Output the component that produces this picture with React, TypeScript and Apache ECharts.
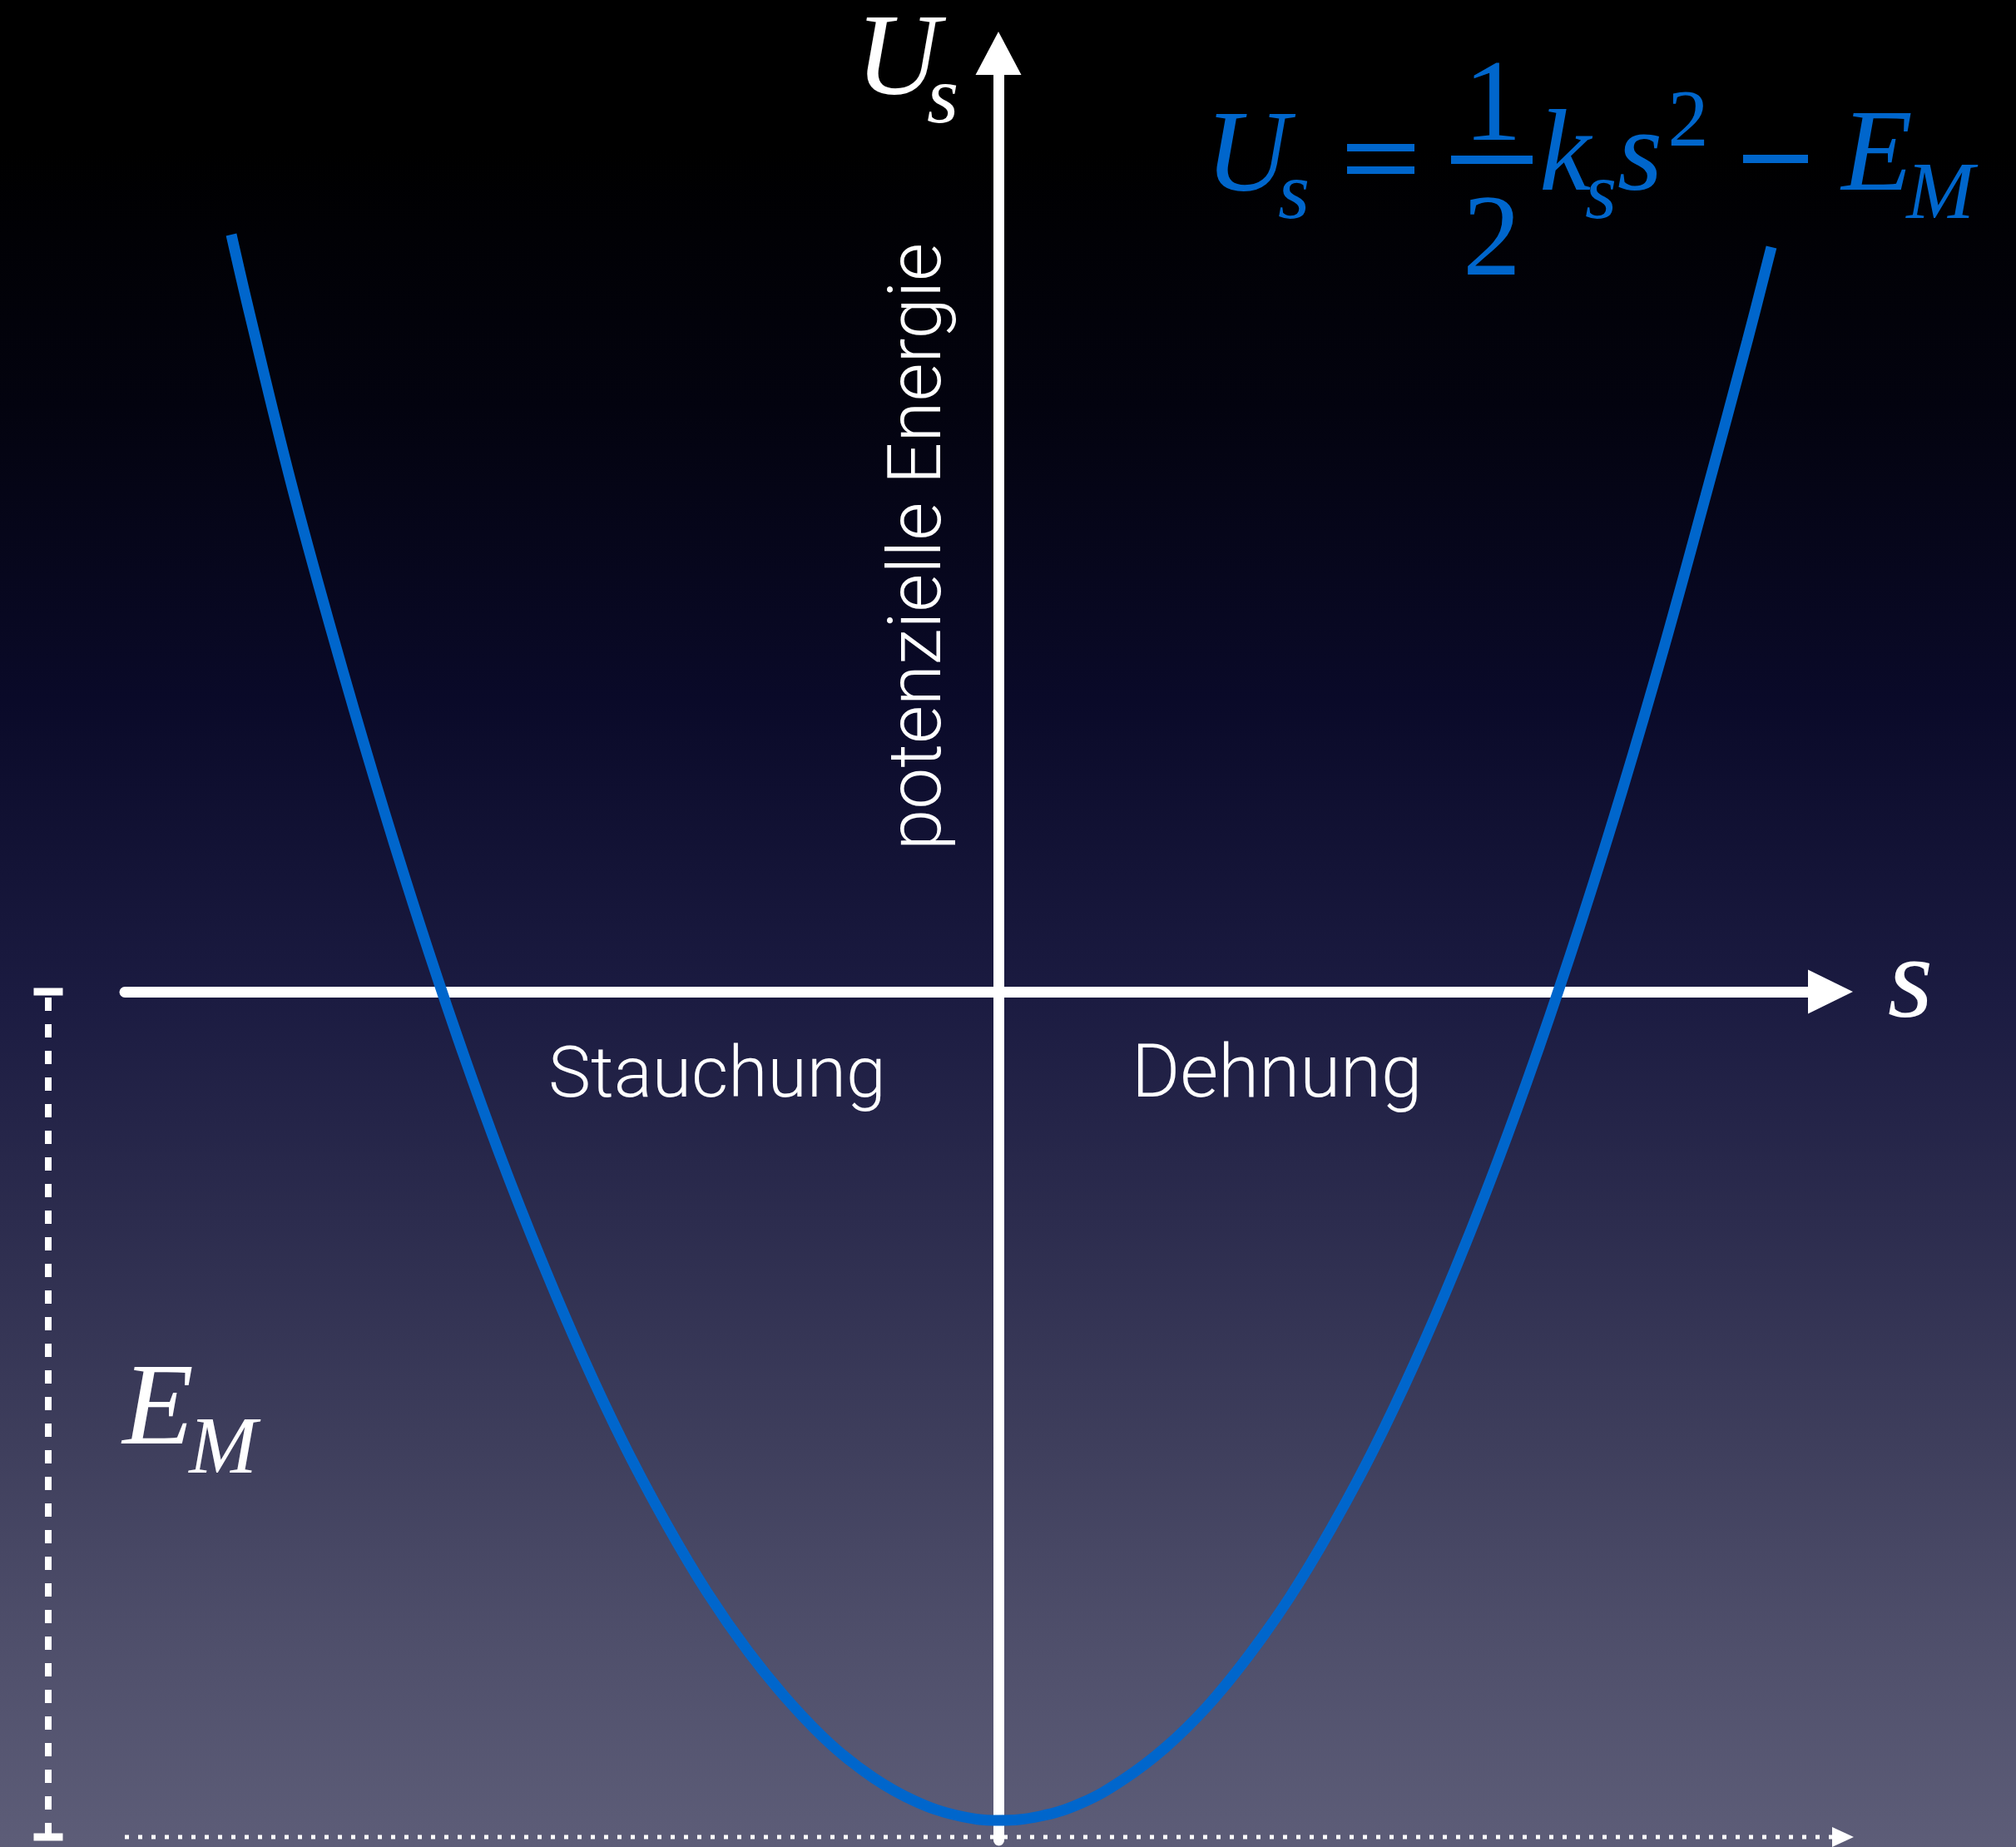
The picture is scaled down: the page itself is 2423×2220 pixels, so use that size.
import React, { useEffect, useRef } from "react";
import * as echarts from "echarts";

const W = 2423;
const H = 2220;

// axis ranges in data units (deflection s, energy U)
const sRange = [-10.5, 10];
const uRange = [-10.2, 11.28];

// potential curve, points
const curveS = [
  -9.22, -9, -8.5, -8, -7.5, -7, -6.5, -6, -5.5, -5, -4.5, -4, -3.5, -3, -2.5, -2, -1.5, -1, -0.5, 0,
  0.5, 1, 1.5, 2, 2.5, 3, 3.5, 4, 4.5, 5, 5.5, 6, 6.5, 7, 7.5, 8, 8.5, 9, 9.29,
];
const curveU = [
  9.1, 8.15, 6.11, 4.28, 2.56, 0.95, -0.55, -1.94, -3.21, -4.38, -5.44, -6.38, -7.22, -7.94, -8.55, -9.06, -9.45, -9.73, -9.9, -9.96,
  -9.91, -9.75, -9.47, -9.09, -8.6, -7.99, -7.28, -6.45, -5.52, -4.47, -3.31, -2.04, -0.66, 0.83, 2.43, 4.14, 5.96, 7.82, 8.95,
];

// E_M level and its markers
const EM = 10.16;
const dottedS = [-10.5, 10.15];
const markerS = -11.42;

// texts
const axisTitleY = "potenzielle Energie";
const leftRegion = "Stauchung";
const rightRegion = "Dehnung";

const BLUE = "#0066CC";
const WHITE = "#FFFFFF";
const SERIF = "'Liberation Serif', 'Times New Roman', serif";
const SANS = "Roboto, 'Liberation Sans', sans-serif";
const K_SERIF = 0.3375;
const K_SANS = 0.3335;

function glyph(text: string, cx: number, baseline: number, size: number, italic: boolean, color: string) {
  return {
    type: "text",
    silent: true,
    z: 100,
    x: cx,
    y: baseline - K_SERIF * size,
    style: {
      text,
      fill: color,
      fontFamily: SERIF,
      fontSize: size,
      lineHeight: Math.round(size * 0.75),
      fontStyle: italic ? "italic" : "normal",
      fontWeight: "normal",
      align: "center",
      verticalAlign: "middle",
    },
  };
}

function bar(x: number, y: number, w: number, h: number, color: string) {
  return { type: "rect", silent: true, z: 100, shape: { x, y, width: w, height: h }, style: { fill: color } };
}

function sansText(text: string, left: number, baseline: number, size: number) {
  return {
    type: "text",
    silent: true,
    z: 100,
    x: left,
    y: baseline - K_SANS * size,
    style: {
      text,
      fill: WHITE,
      fontFamily: SANS,
      fontSize: size,
      fontWeight: 300,
      align: "left",
      verticalAlign: "middle",
    },
  };
}

function buildOption() {
  const curve = curveS.map((s, i) => [s, curveU[i]]);
  return {
    animation: false,
    grid: { left: 150, right: 223, top: 64, bottom: 8, containLabel: false },
    xAxis: {
      type: "value",
      min: sRange[0],
      max: sRange[1],
      axisLine: {
        show: true,
        onZero: true,
        symbol: ["none", "triangle"],
        symbolSize: [53, 54],
        lineStyle: { color: WHITE, width: 13 },
      },
      axisTick: { show: false },
      axisLabel: { show: false },
      splitLine: { show: false },
    },
    yAxis: {
      type: "value",
      min: uRange[0],
      max: uRange[1],
      axisLine: {
        show: true,
        onZero: true,
        symbol: ["none", "triangle"],
        symbolSize: [55, 52],
        lineStyle: { color: WHITE, width: 13 },
      },
      axisTick: { show: false },
      axisLabel: { show: false },
      splitLine: { show: false },
    },
    series: [
      {
        type: "line",
        data: [
          { value: [dottedS[0], -EM], symbol: "none" },
          { value: [dottedS[1], -EM], symbol: "triangle", symbolSize: [24, 26], symbolRotate: -90 },
        ],
        showSymbol: true,
        clip: false,
        silent: true,
        z: 3,
        itemStyle: { color: WHITE, borderWidth: 0 },
        lineStyle: { color: WHITE, width: 5, type: [5, 11], cap: "butt" },
      },
      {
        type: "custom",
        data: [[markerS, 0, -EM]],
        clip: false,
        silent: true,
        z: 3,
        renderItem: (_params: any, api: any) => {
          const s = api.value(0);
          const p0 = api.coord([s, api.value(1)]);
          const p1 = api.coord([s, api.value(2)]);
          return {
            type: "group",
            children: [
              {
                type: "line",
                shape: { x1: p0[0], y1: p0[1], x2: p1[0], y2: p1[1] },
                style: { stroke: WHITE, lineWidth: 8, lineDash: [16, 16], lineDashOffset: 25, lineCap: "butt" },
              },
              { type: "rect", shape: { x: p0[0] - 17.5, y: p0[1] - 4.5, width: 35, height: 9 }, style: { fill: WHITE } },
              { type: "rect", shape: { x: p1[0] - 17.5, y: p1[1] - 4.5, width: 35, height: 9 }, style: { fill: WHITE } },
            ],
          };
        },
      },
      {
        type: "line",
        data: curve,
        smooth: 0.4,
        showSymbol: false,
        symbol: "none",
        clip: false,
        silent: true,
        z: 5,
        lineStyle: { color: BLUE, width: 13, cap: "butt" },
      },
    ],
    graphic: [
      // axis names
      glyph("U", 1079, 113, 140, true, WHITE),
      glyph("s", 1133, 147, 98, true, WHITE),
      glyph("s", 2296, 1222, 140, true, WHITE),
      // E_M label
      glyph("E", 190, 1735, 140, true, WHITE),
      glyph("M", 268, 1770, 98, true, WHITE),
      // formula
      glyph("U", 1499, 229, 140, true, BLUE),
      glyph("s", 1555, 262, 98, true, BLUE),
      bar(1619, 173, 81, 9, BLUE),
      bar(1619, 200, 81, 9, BLUE),
      bar(1744, 187, 98, 10, BLUE),
      glyph("1", 1794, 168, 140, false, BLUE),
      glyph("2", 1793, 330, 140, false, BLUE),
      glyph("k", 1881, 228, 140, true, BLUE),
      glyph("s", 1924, 262, 98, true, BLUE),
      glyph("s", 1971, 228, 140, true, BLUE),
      glyph("2", 2029, 175, 98, false, BLUE),
      bar(2095, 186, 78, 10, BLUE),
      glyph("E", 2256, 228, 140, true, BLUE),
      glyph("M", 2332, 262, 98, true, BLUE),
      // region labels
      sansText(leftRegion, 659, 1317, 86),
      sansText(rightRegion, 1360, 1317, 89),
      {
        type: "text",
        silent: true,
        z: 100,
        x: 1099,
        y: 657,
        rotation: Math.PI / 2,
        style: {
          text: axisTitleY,
          fill: WHITE,
          fontFamily: SANS,
          fontSize: 89,
          fontWeight: 300,
          align: "center",
          verticalAlign: "middle",
        },
      },
    ],
  };
}

const BG =
  "linear-gradient(180deg, #000000 0%, #000000 8%, #03030f 22%, #0a0a29 38%, #1b1b41 54%, #2c2c4e 66%, #3e3e5c 78%, #4f4f6b 89%, #5d5d78 100%)";

export default function App() {
  const ref = useRef<HTMLDivElement>(null);
  useEffect(() => {
    if (!ref.current) return;
    const chart = echarts.init(ref.current, null, { renderer: "svg", width: W, height: H });
    chart.setOption(buildOption() as any);
    return () => {
      chart.dispose();
    };
  }, []);
  return (
    <div
      ref={ref}
      style={{ position: "absolute", left: 0, top: 0, width: W, height: H, background: BG }}
    />
  );
}
